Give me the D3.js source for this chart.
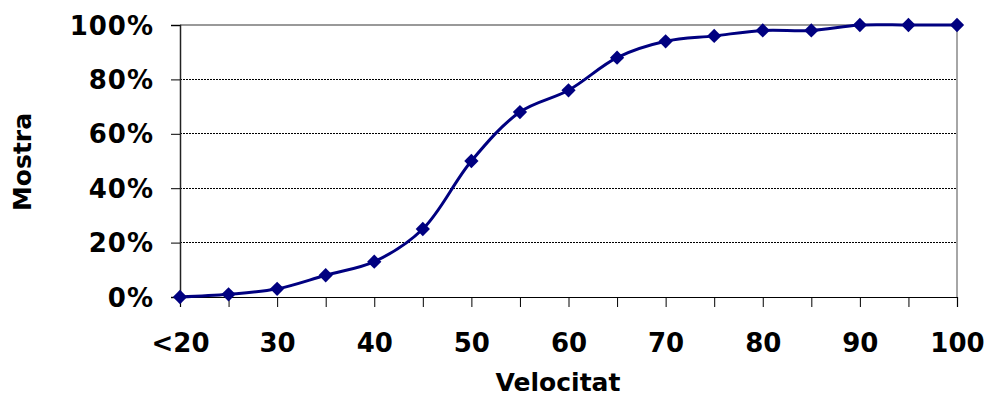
<!DOCTYPE html>
<html>
<head>
<meta charset="utf-8">
<script src="https://cdn.jsdelivr.net/npm/d3@7"></script>
<style>
  body { margin: 0; background: #fff; }
  svg { display: block; }
  text { font-family: "DejaVu Sans", Verdana, sans-serif; font-weight: bold; fill: #000; }
</style>
</head>
<body>
<svg id="chart" width="987" height="396"></svg>
<script>
const categories = ["<20","25","30","35","40","45","50","55","60","65","70","75","80","85","90","95","100"];
const values = [0, 1, 3, 8, 13, 25, 50, 68, 76, 88, 94, 96, 98, 98, 100, 100, 100];
const yTicks = [0, 20, 40, 60, 80, 100];
const xTitle = "Velocitat";
const yTitle = "Mostra";

const svg = d3.select("#chart");
const plotL = 180, plotR = 957, plotT = 25, plotB = 297;

const x = d3.scalePoint().domain(categories).range([plotL, plotR]);
const y = d3.scaleLinear().domain([0, 100]).range([plotB, plotT]);

// gridlines
svg.append("g").selectAll("line").data(yTicks.filter(d => d > 0 && d < 100)).join("line")
  .attr("x1", plotL).attr("x2", plotR)
  .attr("y1", d => y(d)).attr("y2", d => y(d))
  .attr("stroke", "#000").attr("stroke-width", 1)
  .attr("stroke-dasharray", "2,1").attr("shape-rendering", "crispEdges");

// top gridline (100%) grey
svg.append("line").attr("x1", plotL).attr("x2", plotR)
  .attr("y1", y(100)).attr("y2", y(100))
  .attr("stroke", "#777").attr("stroke-width", 1.5);

// right border
svg.append("line").attr("x1", plotR).attr("x2", plotR)
  .attr("y1", y(100)).attr("y2", y(0))
  .attr("stroke", "#888").attr("stroke-width", 1.5);

// y axis
const yAxis = svg.append("g").attr("transform", `translate(${plotL},0)`)
  .call(d3.axisLeft(y).tickValues(yTicks).tickFormat(d => d + "%").tickSize(9).tickPadding(17));
yAxis.select(".domain").attr("stroke", "#222").attr("stroke-width", 1.5);
yAxis.selectAll(".tick line").attr("stroke", "#000");
yAxis.selectAll("text").style("font-size", "26px").style("letter-spacing", "1px").attr("dy", "0.35em");

// x axis
const xAxis = svg.append("g").attr("transform", `translate(0,${plotB})`)
  .call(d3.axisBottom(x).tickSize(10).tickPadding(27)
    .tickFormat((d, i) => i % 2 === 0 ? d : ""));
xAxis.select(".domain").attr("stroke", "#000").attr("stroke-width", 1.2);
xAxis.selectAll(".tick line").attr("stroke", "#000");
xAxis.selectAll("text").style("font-size", "26px");

// titles
svg.append("text").attr("x", 558).attr("y", 391)
  .attr("text-anchor", "middle").style("font-size", "25px").text(xTitle);
svg.append("text").attr("transform", `translate(31,162) rotate(-90)`)
  .attr("text-anchor", "middle").style("font-size", "25px").text(yTitle);

// line
const line = d3.line()
  .x((d, i) => x(categories[i]))
  .y(d => y(d))
  .curve(d3.curveCatmullRom.alpha(0.5));
svg.append("path").datum(values)
  .attr("d", line).attr("fill", "none")
  .attr("stroke", "#000080").attr("stroke-width", 3);

// markers
svg.append("g").selectAll("path").data(values).join("path")
  .attr("transform", (d, i) => `translate(${x(categories[i])},${y(d)})`)
  .attr("d", d3.symbol().type(d3.symbolDiamond2).size(130))
  .attr("fill", "#000080");
</script>
</body>
</html>
